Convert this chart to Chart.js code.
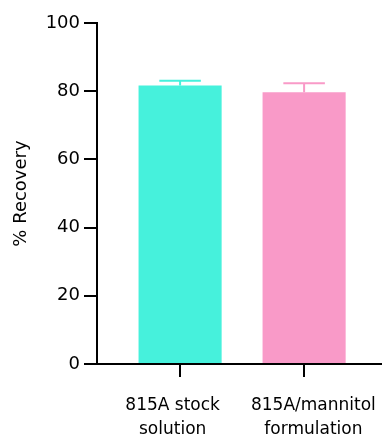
<!DOCTYPE html>
<html>
<head>
<meta charset="utf-8">
<script src="https://cdn.jsdelivr.net/npm/chart.js@4/dist/chart.umd.min.js"></script>
<style>
  html, body { margin: 0; padding: 0; background: #fff; }
  #wrap { width: 382px; height: 434px; }
</style>
</head>
<body>
<div id="wrap"><canvas id="c" width="382" height="434"></canvas></div>
<script>
// Groups, mean recovery and error (SD) per group
const categories = [['815A stock', 'solution'], ['815A/mannitol', 'formulation']];
const recovery = [81.7, 79.7];
const recoveryErr = [1.4, 2.6];
const barColors = ['#46F1DC', '#F99AC8'];
const yTicks = [0, 20, 40, 60, 80, 100];

// Small horizontal nudge of each group caption away from its tick (in category units)
const captionNudge = [-0.06, 0.075];

const FONT = '"DejaVu Sans", sans-serif';

// Error bars: vertical whisker from bar top to mean + error, with a cap
const errorBars = {
  id: 'errorBars',
  afterDatasetsDraw(chart) {
    const ctx = chart.ctx;
    const meta = chart.getDatasetMeta(0);
    const yScale = chart.scales.y;
    ctx.save();
    meta.data.forEach((bar, i) => {
      const top = yScale.getPixelForValue(recovery[i] + recoveryErr[i]);
      const half = bar.width * 0.25;
      ctx.strokeStyle = barColors[i];
      ctx.lineWidth = 2;
      ctx.beginPath();
      ctx.moveTo(bar.x, bar.y);
      ctx.lineTo(bar.x, top);
      ctx.moveTo(bar.x - half, top);
      ctx.lineTo(bar.x + half, top);
      ctx.stroke();
    });
    ctx.restore();
  }
};

const X_MIN = -0.67, X_MAX = 1.62;

new Chart(document.getElementById('c'), {
  type: 'bar',
  data: {
    datasets: [{
      data: recovery.map((v, i) => ({ x: i, y: v })),
      backgroundColor: barColors,
      borderWidth: 0,
      categoryPercentage: 1,
      barPercentage: 0.67,
      grouped: false
    }]
  },
  options: {
    responsive: false,
    animation: false,
    layout: { padding: { top: 23, right: 1, left: 0, bottom: 0 } },
    plugins: { legend: { display: false }, tooltip: { enabled: false } },
    scales: {
      // axis line and tick marks at each group
      x: {
        type: 'linear',
        offset: false,
        min: X_MIN,
        max: X_MAX,
        weight: 0,
        afterBuildTicks(scale) { scale.ticks = categories.map((_, i) => ({ value: i })); },
        afterFit(scale) { scale.height = 13; scale.paddingLeft = 0; scale.paddingRight = 0; },
        border: { color: '#000', width: 2 },
        grid: { offset: false, drawOnChartArea: false, tickLength: 13, color: '#000', lineWidth: 2 },
        ticks: { display: false }
      },
      // group captions
      xCaption: {
        type: 'linear',
        position: 'bottom',
        offset: false,
        min: X_MIN,
        max: X_MAX,
        weight: 1,
        afterBuildTicks(scale) { scale.ticks = categories.map((_, i) => ({ value: i + captionNudge[i] })); },
        afterFit(scale) { scale.height = 57; scale.paddingLeft = 0; scale.paddingRight = 0; },
        border: { display: false },
        grid: { display: false, drawTicks: false },
        ticks: {
          color: '#000',
          font: { family: FONT, size: 17, lineHeight: 1.4 },
          padding: 17,
          maxRotation: 0,
          autoSkip: false,
          callback: (v, i) => categories[i]
        }
      },
      y: {
        min: 0,
        max: 100,
        afterBuildTicks(scale) { scale.ticks = yTicks.map(v => ({ value: v })); },
        afterFit(scale) { scale.width = 97; scale.paddingTop = 0; scale.paddingBottom = 0; },
        border: { color: '#000', width: 2 },
        grid: { drawOnChartArea: false, tickLength: 13, color: '#000', lineWidth: 2 },
        ticks: { color: '#000', font: { family: FONT, size: 18 }, padding: 4 },
        title: {
          display: true,
          text: '% Recovery',
          color: '#000',
          font: { family: FONT, size: 18 },
          padding: { top: 11, bottom: 0 }
        }
      }
    }
  },
  plugins: [errorBars]
});
</script>
</body>
</html>
